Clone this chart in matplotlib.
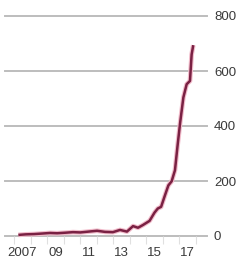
import matplotlib
matplotlib.use("Agg")
import matplotlib.pyplot as plt
import numpy as np

years = [2006.75, 2007.2, 2007.7, 2008.2, 2008.67, 2009.1, 2009.6, 2010.06, 2010.5,
         2011.0, 2011.52, 2012.0, 2012.48, 2012.91, 2013.33, 2013.7, 2014.0, 2014.3,
         2014.7, 2015.0, 2015.2, 2015.4, 2015.6, 2015.84, 2016.04, 2016.24, 2016.4,
         2016.55, 2016.75, 2016.95, 2017.15, 2017.25, 2017.35]
values = [4, 6, 7, 9, 11, 10, 12, 14, 13,
          16, 19, 15, 14, 22, 16, 36, 30, 40,
          55, 85, 100, 106, 142, 184, 199, 239, 330,
          410, 504, 552, 564, 660, 694]

xtick_pos = [2007, 2009, 2011, 2013, 2015, 2017]
xtick_labels = ["2007", "09", "11", "13", "15", "17"]
ytick_pos = [0, 200, 400, 600, 800]
ytick_labels = ["0", "200", "400", "600", "800"]

W, H = 240, 265
fig = plt.figure(figsize=(W / 100, H / 100), dpi=100)
ax = fig.add_axes([5 / W, (H - 236) / H, (207 - 5) / W, 220 / H])

ax.plot(years, values, color="#f2bccb", lw=3.4, solid_capstyle="butt", clip_on=False, zorder=3)
ax.plot(years, values, color="#7a2143", lw=1.8, solid_capstyle="butt", clip_on=False, zorder=4)

ax.set_xlim(2007 - 17.5 / 16.5, 2007 + (207 - 22.5) / 16.5)
ax.set_ylim(0, 800)

for v in ytick_pos:
    ax.axhline(v, color="#bdbdbd", lw=1.4, zorder=1, clip_on=False)

for s in ax.spines.values():
    s.set_visible(False)

ax.yaxis.tick_right()
ax.set_yticks(ytick_pos)
ax.set_yticklabels(ytick_labels)
ax.set_xticks(xtick_pos)
ax.set_xticklabels(xtick_labels)
ax.set_xticks([y + 0.5 for y in range(2006, 2018)], minor=True)
ax.tick_params(axis="y", length=0, pad=5, labelsize=9.5, labelcolor="#3a3a3a")
ax.tick_params(axis="x", which="major", length=0, pad=8, labelsize=9.5, labelcolor="#3a3a3a")
ax.tick_params(axis="x", which="minor", length=6, width=0.8, color="#e0e0e0")
for lab in ax.get_xticklabels() + ax.get_yticklabels():
    lab.set_family(["Liberation Sans", "DejaVu Sans"])

fig.savefig("out.png", dpi=100, facecolor="white")
